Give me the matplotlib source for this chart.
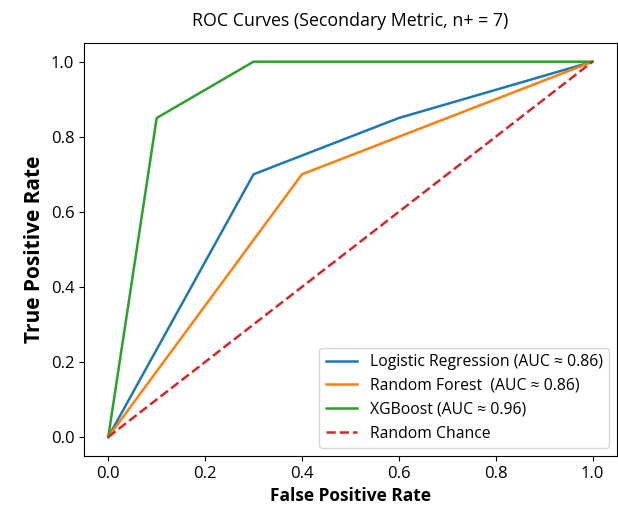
import matplotlib
matplotlib.use("Agg")
import matplotlib.pyplot as plt

plt.rcParams["font.family"] = ["Open Sans", "DejaVu Sans"]

# ROC points
lr_fpr = [0.0, 0.3, 0.6, 1.0]
lr_tpr = [0.0, 0.7, 0.85, 1.0]
rf_fpr = [0.0, 0.4, 1.0]
rf_tpr = [0.0, 0.7, 1.0]
xgb_fpr = [0.0, 0.1, 0.3, 1.0]
xgb_tpr = [0.0, 0.85, 1.0, 1.0]
chance = [0.0, 1.0]

labels = [
    "Logistic Regression (AUC \u2248 0.86)",
    "Random Forest  (AUC \u2248 0.86)",
    "XGBoost (AUC \u2248 0.96)",
    "Random Chance",
]

fig = plt.figure(figsize=(6.18, 5.11), dpi=100)
ax = fig.add_axes([0.136, 0.108, 0.862, 0.808])

ax.plot(lr_fpr, lr_tpr, color="#1f77b4", lw=1.8, label=labels[0])
ax.plot(rf_fpr, rf_tpr, color="#ff7f0e", lw=1.8, label=labels[1])
ax.plot(xgb_fpr, xgb_tpr, color="#2ca02c", lw=1.8, label=labels[2])
ax.plot(chance, chance, color="#d62728", lw=1.8, ls="--", label=labels[3])

ax.set_title("ROC Curves (Secondary Metric, n+ = 7)", fontsize=12.8, pad=12)
ax.set_xlabel("False Positive Rate", fontsize=12.5, fontweight="bold")
ax.set_ylabel("True Positive Rate", fontsize=15, fontweight="bold")
ax.tick_params(labelsize=12)
ax.legend(loc="lower right", fontsize=11.3)

fig.savefig("out.png", dpi=100)
